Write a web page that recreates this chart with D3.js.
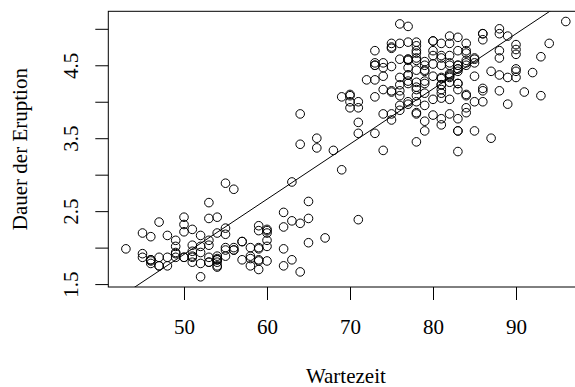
<!DOCTYPE html>
<html>
<head>
<meta charset="utf-8">
<script src="https://cdn.jsdelivr.net/npm/d3@7"></script>
<style>
  html, body { margin: 0; padding: 0; background: #fff; }
  svg { display: block; }
  text { font-family: "Liberation Serif", "Times New Roman", serif; fill: #000; }
</style>
</head>
<body>
<script>
// Old Faithful: Dauer der Eruption (min) vs. Wartezeit (min)
const eruptions = [
3.600,1.800,3.333,2.283,4.533,2.883,4.700,3.600,1.950,4.350,
1.833,3.917,4.200,1.750,4.700,2.167,1.750,4.800,1.600,4.250,
1.800,1.750,3.450,3.067,4.533,3.600,1.967,4.083,3.850,4.433,
4.300,4.467,3.367,4.033,3.833,2.017,1.867,4.833,1.833,4.783,
4.350,1.883,4.567,1.750,4.533,3.317,3.833,2.100,4.633,2.000,
4.800,4.716,1.833,4.833,1.733,4.883,3.717,1.667,4.567,4.317,
2.233,4.500,1.750,4.800,1.817,4.400,4.167,4.700,2.067,4.700,
4.033,1.967,4.500,4.000,1.983,5.067,2.017,4.567,3.883,3.600,
4.133,4.333,4.100,2.633,4.067,4.933,3.950,4.517,2.167,4.000,
2.200,4.333,1.867,4.817,1.833,4.300,4.667,3.750,1.867,4.900,
2.483,4.367,2.100,4.500,4.050,1.867,4.700,1.783,4.850,3.683,
4.733,2.300,4.900,4.417,1.700,4.633,2.317,4.600,1.817,4.417,
2.617,4.067,4.250,1.967,4.600,3.767,1.917,4.500,2.267,4.650,
1.867,4.167,2.800,4.333,1.833,4.383,1.883,4.933,2.033,3.733,
4.233,2.233,4.533,4.817,4.333,1.983,4.633,2.017,5.100,1.800,
5.033,4.000,2.400,4.600,3.567,4.000,4.500,4.083,1.800,3.967,
2.200,4.150,2.000,3.833,3.500,4.583,2.367,5.000,1.933,4.617,
1.917,2.083,4.583,3.333,4.167,4.333,4.500,2.417,4.000,4.167,
1.883,4.583,4.250,3.767,2.033,4.433,4.083,1.833,4.417,2.183,
4.800,1.833,4.800,4.100,3.966,4.233,3.500,4.366,2.250,4.667,
2.100,4.350,4.133,1.867,4.600,1.783,4.367,3.850,1.933,4.500,
2.383,4.700,1.867,3.833,3.417,4.233,2.400,4.800,2.000,4.150,
1.867,4.267,1.750,4.483,4.000,4.117,4.083,4.267,3.917,4.550,
4.083,2.417,4.183,2.217,4.450,1.883,1.850,4.283,3.950,2.333,
4.150,2.350,4.933,2.900,4.583,3.833,2.083,4.367,2.133,4.350,
2.200,4.450,3.567,4.500,4.150,3.817,3.917,4.450,2.000,4.283,
4.767,4.533,1.850,4.250,1.983,2.250,4.750,4.117,2.150,4.417,
1.817,4.467
];
const waiting = [
79,54,74,62,85,55,88,85,51,85,
54,84,78,47,83,52,62,84,52,79,
51,47,78,69,74,83,55,76,78,79,
73,77,66,80,74,52,48,80,59,90,
80,58,84,58,73,83,64,53,82,59,
75,90,54,80,54,83,71,64,77,81,
59,84,48,82,60,92,78,78,65,73,
82,56,79,71,62,76,60,78,76,83,
75,82,70,65,73,88,76,80,48,86,
60,90,50,78,63,72,84,75,51,82,
62,88,49,83,81,47,84,52,86,81,
75,59,89,79,59,81,50,85,59,87,
53,69,77,56,88,81,45,82,55,90,
45,83,56,89,46,82,51,86,53,79,
81,60,82,77,76,59,80,49,96,53,
77,77,65,81,71,70,81,93,53,89,
45,86,58,78,66,76,63,88,52,93,
49,57,77,68,81,81,73,50,85,74,
55,77,83,83,51,78,84,46,83,55,
81,57,76,84,77,81,87,77,51,78,
60,82,91,53,78,46,77,84,49,83,
71,80,49,75,64,76,53,94,55,76,
50,82,54,75,78,79,78,78,70,79,
70,54,86,50,90,54,54,77,79,64,
75,47,86,63,85,82,57,82,67,74,
54,83,73,73,88,80,71,83,56,79,
78,84,58,83,43,60,75,81,46,90,
46,74
];
const xTicks = [50, 60, 70, 80, 90];
const yTicks = [1.5, 2.0, 2.5, 3.0, 3.5, 4.0, 4.5, 5.0];
const yTickLabels = ["1.5", "", "2.5", "", "3.5", "", "4.5", ""];
const xTitle = "Wartezeit";
const yTitle = "Dauer der Eruption";

// least-squares fit (abline(lm(eruptions ~ waiting)))
const n = waiting.length;
const mx = d3.mean(waiting), my = d3.mean(eruptions);
let sxy = 0, sxx = 0;
for (let i = 0; i < n; i++) { sxy += (waiting[i]-mx)*(eruptions[i]-my); sxx += (waiting[i]-mx)**2; }
const slope = sxy / sxx, intercept = my - slope * mx;

// R-style 4% extended ranges
const xr = d3.extent(waiting), yr = d3.extent(eruptions);
const xpad = (xr[1]-xr[0])*0.04, ypad = (yr[1]-yr[0])*0.04;
const xDom = [xr[0]-xpad, xr[1]+xpad];
const yDom = [yr[0]-ypad, yr[1]+ypad];

const L = 108.3, R = 583.4, T = 11.3, B = 287;
const x = d3.scaleLinear().domain(xDom).range([L, R]);
const y = d3.scaleLinear().domain(yDom).range([B, T]);

const svg = d3.select("body").append("svg").attr("width", 575).attr("height", 387);

svg.append("defs").append("clipPath").attr("id", "plotclip")
  .append("rect").attr("x", L).attr("y", T).attr("width", R-L).attr("height", B-T);

// points
svg.append("g").selectAll("circle").data(waiting.map((w,i)=>[w, eruptions[i]])).join("circle")
  .attr("cx", d => x(d[0])).attr("cy", d => y(d[1])).attr("r", 4.3)
  .attr("fill", "none").attr("stroke", "#000").attr("stroke-width", 1);

// regression line
svg.append("line").attr("clip-path", "url(#plotclip)")
  .attr("x1", x(xDom[0])).attr("y1", y(intercept + slope*xDom[0]))
  .attr("x2", x(xDom[1])).attr("y2", y(intercept + slope*xDom[1]))
  .attr("stroke", "#000").attr("stroke-width", 1);

// box
svg.append("rect").attr("x", L).attr("y", T).attr("width", R-L).attr("height", B-T)
  .attr("fill", "none").attr("stroke", "#000").attr("stroke-width", 1);

// x axis
const gx = svg.append("g").attr("transform", `translate(0,${B})`)
  .call(d3.axisBottom(x).tickValues(xTicks).tickSize(13).tickFormat(d3.format("d")));
gx.select(".domain").remove();
gx.selectAll("line").attr("stroke", "#000");
gx.selectAll("text").attr("y", 47).attr("dy", null)
  .style("font-family", '"Liberation Serif", serif').style("font-size", "21px").attr("fill", "#000");

// y axis
const gy = svg.append("g").attr("transform", `translate(${L},0)`)
  .call(d3.axisLeft(y).tickValues(yTicks).tickSize(13).tickFormat((d,i) => yTickLabels[i]));
gy.select(".domain").remove();
gy.selectAll("line").attr("stroke", "#000");
gy.selectAll("text").attr("transform", "rotate(-90)").attr("x", 0).attr("y", -30).attr("dy", null)
  .attr("text-anchor", "middle")
  .style("font-family", '"Liberation Serif", serif').style("font-size", "21px").attr("fill", "#000");

// titles
svg.append("text").attr("x", (L+R)/2).attr("y", 382.5).attr("text-anchor", "middle")
  .style("font-size", "21px").text(xTitle);
svg.append("text").attr("transform", `translate(27,${(T+B)/2}) rotate(-90)`).attr("text-anchor", "middle")
  .style("font-size", "21px").text(yTitle);
</script>
</body>
</html>
